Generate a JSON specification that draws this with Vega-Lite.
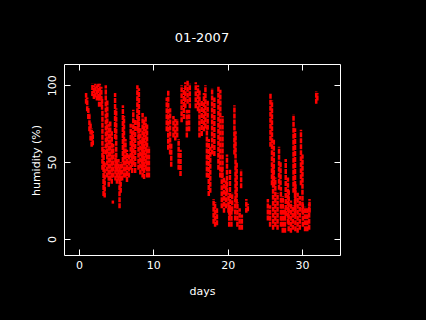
{
  "$schema": "https://vega.github.io/schema/vega-lite/v6.json",
  "autosize": "none",
  "padding": {"left": 64, "top": 64, "right": 86, "bottom": 65},
  "width": 276,
  "height": 191,
  "background": "black",
  "title": {"text": "01-2007", "color": "white", "fontSize": 13, "fontWeight": "normal", "font": "DejaVu Sans", "offset": 9, "baseline": "alphabetic", "anchor": "middle"},
  "config": {
    "view": {"stroke": "white", "strokeWidth": 1},
    "axis": {"grid": false, "domain": false, "tickColor": "white", "labelColor": "white", "titleColor": "white", "labelFont": "DejaVu Sans", "titleFont": "DejaVu Sans", "labelFontSize": 11, "titleFontSize": 11, "titleFontWeight": "normal", "tickSize": -6, "labelFlush": false, "labelOverlap": false}
  },
  "data": {"values": [
    {"d":0.95,"lo":88,"hi":95},{"d":1.1,"lo":83,"hi":92},{"d":1.25,"lo":78,"hi":86},
    {"d":1.4,"lo":70,"hi":82},{"d":1.55,"lo":64,"hi":76},{"d":1.7,"lo":60,"hi":72},{"d":1.85,"lo":61,"hi":70},
    {"d":1.8,"lo":93,"hi":101},{"d":2.0,"lo":91,"hi":100},{"d":2.2,"lo":92,"hi":101},{"d":2.4,"lo":90,"hi":100},{"d":2.6,"lo":91,"hi":101},{"d":2.8,"lo":92,"hi":101},{"d":3.0,"lo":86,"hi":99},
    {"d":2.7,"lo":86,"hi":93},{"d":3.1,"lo":84,"hi":92},
    {"d":3.15,"lo":45,"hi":84},{"d":3.3,"lo":28,"hi":60},{"d":3.45,"lo":27,"hi":50},
    {"d":3.6,"lo":55,"hi":100},{"d":3.8,"lo":40,"hi":90},{"d":4.0,"lo":34,"hi":75},
    {"d":4.2,"lo":38,"hi":77},{"d":4.4,"lo":36,"hi":70},{"d":4.6,"lo":40,"hi":62},{"d":4.55,"lo":23,"hi":25},
    {"d":4.85,"lo":65,"hi":95},{"d":5.0,"lo":45,"hi":85},
    {"d":4.9,"lo":38,"hi":55},{"d":5.1,"lo":36,"hi":52},
    {"d":5.3,"lo":38,"hi":52},{"d":5.45,"lo":20,"hi":48},{"d":5.6,"lo":30,"hi":50},{"d":5.8,"lo":38,"hi":50},
    {"d":5.9,"lo":50,"hi":87},{"d":6.05,"lo":40,"hi":80},
    {"d":6.25,"lo":40,"hi":65},{"d":6.45,"lo":37,"hi":58},{"d":6.7,"lo":40,"hi":55},
    {"d":6.95,"lo":45,"hi":75},{"d":7.15,"lo":43,"hi":70},
    {"d":7.3,"lo":48,"hi":84},{"d":7.55,"lo":43,"hi":78},
    {"d":7.85,"lo":70,"hi":100},{"d":8.05,"lo":65,"hi":98},
    {"d":8.0,"lo":45,"hi":80},{"d":8.25,"lo":42,"hi":72},{"d":8.5,"lo":45,"hi":65},
    {"d":8.55,"lo":40,"hi":82},{"d":8.75,"lo":39,"hi":78},{"d":8.95,"lo":45,"hi":80},
    {"d":9.15,"lo":40,"hi":75},{"d":9.4,"lo":40,"hi":60},
    {"d":11.8,"lo":70,"hi":92},{"d":12.0,"lo":58,"hi":97},{"d":12.25,"lo":55,"hi":85},
    {"d":12.4,"lo":47,"hi":62},
    {"d":12.7,"lo":66,"hi":80},{"d":12.95,"lo":64,"hi":78},{"d":13.2,"lo":66,"hi":78},
    {"d":13.4,"lo":45,"hi":65},{"d":13.65,"lo":41,"hi":58},
    {"d":13.8,"lo":76,"hi":100},{"d":14.1,"lo":78,"hi":98},
    {"d":14.3,"lo":85,"hi":102},{"d":14.6,"lo":88,"hi":103},{"d":14.9,"lo":85,"hi":101},
    {"d":14.5,"lo":66,"hi":84},{"d":14.8,"lo":70,"hi":84},
    {"d":15.7,"lo":85,"hi":102},{"d":16.0,"lo":83,"hi":100},
    {"d":16.2,"lo":66,"hi":97},{"d":16.5,"lo":67,"hi":90},{"d":16.8,"lo":70,"hi":95},
    {"d":17.0,"lo":72,"hi":100},{"d":17.3,"lo":71,"hi":90},
    {"d":17.2,"lo":40,"hi":73},{"d":17.45,"lo":28,"hi":65},{"d":17.65,"lo":30,"hi":60},
    {"d":17.9,"lo":55,"hi":98},{"d":18.2,"lo":54,"hi":92},
    {"d":18.1,"lo":10,"hi":26},{"d":18.3,"lo":8,"hi":24},{"d":18.55,"lo":9,"hi":20},
    {"d":18.75,"lo":45,"hi":99},{"d":19.0,"lo":40,"hi":97},{"d":19.3,"lo":40,"hi":80},
    {"d":19.2,"lo":20,"hi":47},{"d":19.5,"lo":17,"hi":40},{"d":19.8,"lo":20,"hi":38},{"d":20.1,"lo":17,"hi":30},
    {"d":19.9,"lo":30,"hi":55},{"d":20.3,"lo":15,"hi":45},{"d":20.6,"lo":18,"hi":30},
    {"d":20.2,"lo":8,"hi":22},{"d":20.5,"lo":8,"hi":20},
    {"d":20.9,"lo":55,"hi":87},{"d":21.05,"lo":25,"hi":70},{"d":21.2,"lo":23,"hi":50},
    {"d":21.0,"lo":12,"hi":26},{"d":21.3,"lo":8,"hi":24},{"d":21.6,"lo":6,"hi":20},{"d":21.9,"lo":6,"hi":16},
    {"d":21.8,"lo":33,"hi":45},
    {"d":22.5,"lo":17,"hi":26},{"d":22.7,"lo":18,"hi":23},
    {"d":25.4,"lo":12,"hi":26},{"d":25.7,"lo":8,"hi":22},
    {"d":25.75,"lo":60,"hi":95},{"d":25.95,"lo":35,"hi":90},{"d":26.2,"lo":34,"hi":65},
    {"d":26.1,"lo":6,"hi":47},{"d":26.4,"lo":8,"hi":40},{"d":26.7,"lo":6,"hi":30},
    {"d":26.9,"lo":32,"hi":60},{"d":27.1,"lo":35,"hi":50},
    {"d":27.15,"lo":8,"hi":34},{"d":27.4,"lo":4,"hi":28},{"d":27.7,"lo":4,"hi":20},
    {"d":27.8,"lo":15,"hi":52},{"d":28.1,"lo":10,"hi":40},
    {"d":28.2,"lo":5,"hi":32},{"d":28.5,"lo":4,"hi":25},{"d":28.75,"lo":6,"hi":22},
    {"d":28.85,"lo":30,"hi":81},{"d":29.05,"lo":15,"hi":72},
    {"d":29.1,"lo":5,"hi":36},{"d":29.4,"lo":4,"hi":30},{"d":29.7,"lo":6,"hi":28},
    {"d":29.85,"lo":35,"hi":71},{"d":30.05,"lo":17,"hi":55},
    {"d":30.1,"lo":8,"hi":23},{"d":30.4,"lo":5,"hi":21},{"d":30.7,"lo":5,"hi":20},{"d":30.95,"lo":6,"hi":23},
    {"d":31.0,"lo":17,"hi":26},
    {"d":31.9,"lo":88,"hi":96},{"d":32.05,"lo":90,"hi":95}
  ]},
  "resolve": {"axis": {"x": "independent", "y": "independent"}},
  "layer": [
    {
      "mark": {"type": "rule", "color": "#ff0000", "strokeWidth": 2.5, "strokeDash": [5, 1]},
      "encoding": {
        "x": {"field": "d", "type": "quantitative", "scale": {"domain": [-2.02, 35.1], "nice": false, "zero": false},
              "axis": {"orient": "bottom", "values": [0, 10, 20, 30], "labelPadding": 10, "title": "days", "titleX": 138, "titleY": 36, "titleBaseline": "middle", "titleAnchor": null}},
        "y": {"field": "lo", "type": "quantitative", "scale": {"domain": [-10.4, 113.8], "nice": false, "zero": false},
              "axis": {"orient": "left", "values": [0, 50, 100], "labelAngle": -90, "labelAlign": "center", "labelBaseline": "middle", "labelPadding": 18, "title": "humidity (%)", "titleX": -28, "titleY": 96, "titleAngle": -90, "titleAlign": "center", "titleBaseline": "middle"}},
        "y2": {"field": "hi"}
      }
    },
    {
      "mark": {"type": "point", "opacity": 0},
      "encoding": {
        "x": {"field": "d", "type": "quantitative", "axis": {"orient": "top", "values": [0, 10, 20, 30], "labels": false, "title": null}},
        "y": {"field": "lo", "type": "quantitative", "axis": {"orient": "right", "values": [0, 50, 100], "labels": false, "title": null}}
      }
    }
  ]
}
